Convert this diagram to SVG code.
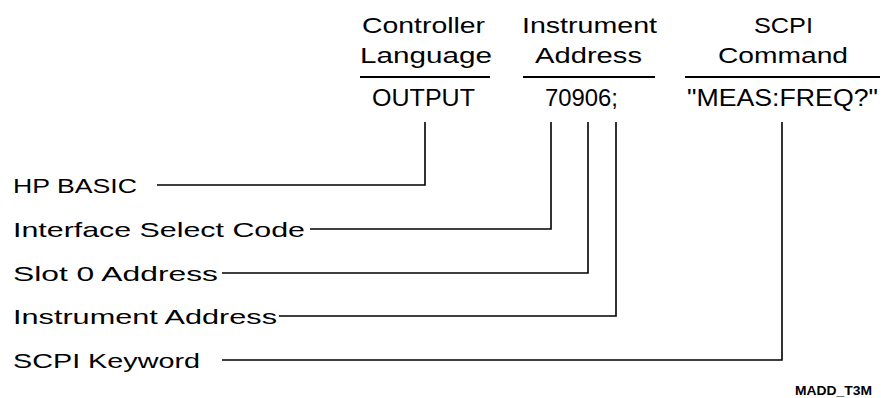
<svg xmlns="http://www.w3.org/2000/svg" width="881" height="398" viewBox="0 0 881 398">
<style>
text{font-family:"Liberation Sans",Arial,sans-serif;fill:#000}
.h{font-size:22px}
.d{font-size:24px}
.l{font-size:21px}
.c{fill:none;stroke:#000;stroke-width:1.6}
.rule{stroke:#000;stroke-width:1.8}
.tag{font-size:12px;font-weight:bold}
</style>
<rect width="881" height="398" fill="#fff"/>
<g id="col-controller">
<text class="h" x="362" y="33" textLength="123" lengthAdjust="spacingAndGlyphs">Controller</text>
<text class="h" x="360" y="63" textLength="132" lengthAdjust="spacingAndGlyphs">Language</text>
<line class="rule" x1="360" y1="77" x2="490" y2="77"/>
<text class="d" x="372" y="106" textLength="103" lengthAdjust="spacingAndGlyphs">OUTPUT</text>
</g>
<g id="col-address">
<text class="h" x="522" y="33" textLength="135" lengthAdjust="spacingAndGlyphs">Instrument</text>
<text class="h" x="535" y="63" textLength="107" lengthAdjust="spacingAndGlyphs">Address</text>
<line class="rule" x1="523" y1="77" x2="655" y2="77"/>
<text class="d" x="545" y="106" textLength="73" lengthAdjust="spacingAndGlyphs">70906;</text>
</g>
<g id="col-scpi">
<text class="h" x="754" y="33" textLength="59" lengthAdjust="spacingAndGlyphs">SCPI</text>
<text class="h" x="718" y="63" textLength="130" lengthAdjust="spacingAndGlyphs">Command</text>
<line class="rule" x1="685" y1="77" x2="880" y2="77"/>
<text class="d" x="687" y="106" textLength="191" lengthAdjust="spacingAndGlyphs">"MEAS:FREQ?"</text>
</g>
<g id="lbl-hpbasic"><text class="l" x="13" y="193" textLength="124" lengthAdjust="spacingAndGlyphs">HP BASIC</text></g>
<g id="lbl-isc"><text class="l" x="13" y="237" textLength="292" lengthAdjust="spacingAndGlyphs">Interface Select Code</text></g>
<g id="lbl-slot"><text class="l" x="13" y="281" textLength="205" lengthAdjust="spacingAndGlyphs">Slot 0 Address</text></g>
<g id="lbl-inst"><text class="l" x="13" y="324" textLength="264" lengthAdjust="spacingAndGlyphs">Instrument Address</text></g>
<g id="lbl-kw"><text class="l" x="13" y="368" textLength="187" lengthAdjust="spacingAndGlyphs">SCPI Keyword</text></g>
<g id="connectors">
<polyline class="c" points="157,185 425,185 425,122"/>
<polyline class="c" points="310,229 551,229 551,122"/>
<polyline class="c" points="222,273 588,273 588,122"/>
<polyline class="c" points="279,316 616,316 616,122"/>
<polyline class="c" points="222,360 782,360 782,122"/>
</g>
<g id="figure-tag"><text class="tag" x="795" y="395" textLength="77" lengthAdjust="spacingAndGlyphs">MADD_T3M</text></g>
</svg>
